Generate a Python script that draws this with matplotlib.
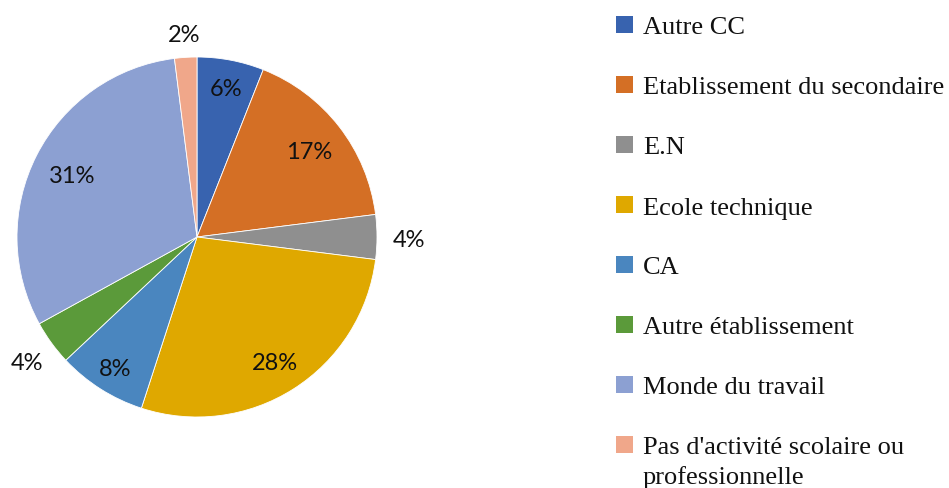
import numpy as np
import matplotlib
matplotlib.use("Agg")
import matplotlib.pyplot as plt
from matplotlib.patches import Rectangle

categories = ["Autre CC", "Etablissement du secondaire", "E.N", "Ecole technique",
              "CA", "Autre établissement", "Monde du travail",
              "Pas d'activité scolaire ou\nprofessionnelle"]
values = [6, 17, 4, 28, 8, 4, 31, 2]
colors = ["#3863AF", "#D46F25", "#8F8F8F", "#DFA800",
          "#4A86BF", "#5B9A3A", "#8CA0D2", "#F0A78A"]
label_dist = [0.85, 0.79, 1.18, 0.81, 0.85, 1.17, 0.78, 1.14]

W, H = 949, 489
fig = plt.figure(figsize=(W / 100, H / 100), dpi=100)
fig.patch.set_facecolor("white")

ax = fig.add_axes([17 / W, 71 / H, 360 / W, 360 / H])
wedges, _ = ax.pie(values, colors=colors, startangle=90, counterclock=False,
                   wedgeprops=dict(edgecolor="white", linewidth=0.6))
ax.set_xlim(-1, 1)
ax.set_ylim(-1, 1)
ax.set_aspect("equal")
ax.axis("off")

for w, v, d in zip(wedges, values, label_dist):
    ang = np.deg2rad((w.theta1 + w.theta2) / 2)
    ax.text(d * np.cos(ang), d * np.sin(ang), f"{v}%", ha="center",
            va="center_baseline", fontsize=17, family=["Lato", "DejaVu Sans"],
            color="#111111", clip_on=False)

# legend
for i, (lab, col) in enumerate(zip(categories, colors)):
    yc = 25.5 + 60 * i
    fig.patches.append(Rectangle((616 / W, (H - yc - 8.5) / H), 17 / W, 17 / H,
                                 transform=fig.transFigure, facecolor=col,
                                 edgecolor="none"))
    for j, line in enumerate(lab.split("\n")):
        fig.text(643 / W, (H - yc - 9 - 30 * j) / H, line, ha="left", va="baseline",
                 fontsize=19, family=["Liberation Serif", "DejaVu Serif"],
                 color="#111111")

fig.savefig("out.png", dpi=100, facecolor="white")
